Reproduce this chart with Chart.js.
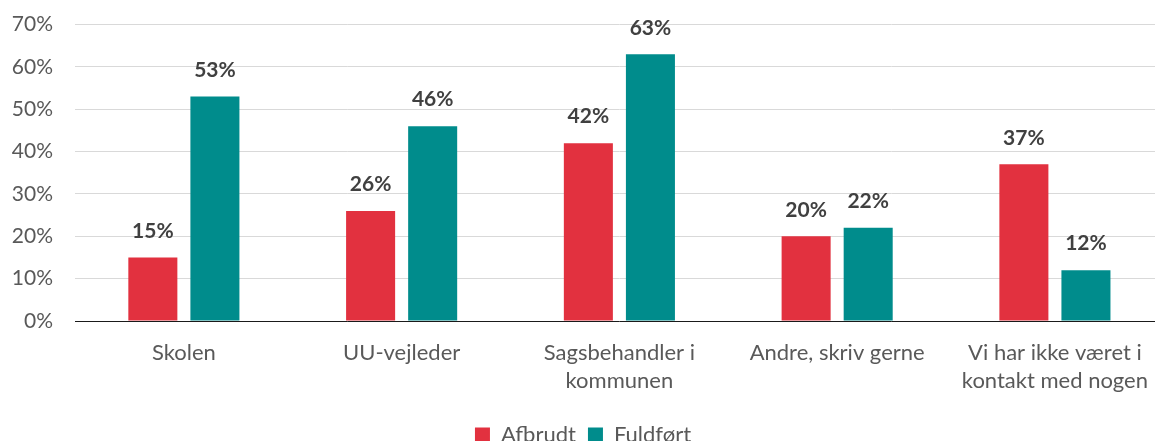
<!DOCTYPE html>
<html lang="da">
<head>
<meta charset="utf-8">
<title>Kontakt efter afbrudt / fuldført forløb</title>
<script src="https://cdn.jsdelivr.net/npm/chart.js@4"></script>
<style>
    html, body { margin: 0; padding: 0; background: #fff; overflow: hidden; }
    #wrap { position: relative; width: 1166px; height: 466px; margin-top: -10px; }
</style>
</head>
<body>
<div id="wrap"><canvas id="contactChart"></canvas></div>
<script>
// Hvem har man været i kontakt med - andel i procent
const categories = [
    'Skolen',
    'UU-vejleder',
    ['Sagsbehandler i', 'kommunen'],
    'Andre, skriv gerne',
    ['Vi har ikke været i', 'kontakt med nogen']
];
const afbrudt = [15, 26, 42, 20, 37];
const fuldfoert = [53, 46, 63, 22, 12];
const yTicks = [0, 10, 20, 30, 40, 50, 60, 70];

const FONT = 'Lato, "Open Sans", sans-serif';

// Skriver procenttallet over hver søjle
const valueLabels = {
    id: 'valueLabels',
    afterDatasetsDraw(chart) {
        const ctx = chart.ctx;
        ctx.save();
        ctx.font = 'bold 21px ' + FONT;
        ctx.fillStyle = '#404040';
        ctx.textAlign = 'center';
        ctx.textBaseline = 'bottom';
        chart.data.datasets.forEach((ds, i) => {
            chart.getDatasetMeta(i).data.forEach((bar, j) => {
                ctx.fillText(ds.data[j] + '%', bar.x, bar.y - 16);
            });
        });
        ctx.restore();
    }
};

new Chart(document.getElementById('contactChart'), {
    type: 'bar',
    data: {
        labels: categories,
        datasets: [
            { label: 'Afbrudt', data: afbrudt, backgroundColor: '#E2313F' },
            { label: 'Fuldført', data: fuldfoert, backgroundColor: '#008C8C' }
        ]
    },
    options: {
        responsive: true,
        maintainAspectRatio: false,
        animation: false,
        categoryPercentage: 0.57,
        barPercentage: 0.79,
        layout: { padding: { top: 3, right: 0, left: 0, bottom: 0 } },
        plugins: {
            legend: {
                position: 'bottom',
                labels: {
                    color: '#595959',
                    font: { family: FONT, size: 22 },
                    boxWidth: 15,
                    boxHeight: 15,
                    padding: 12
                }
            },
            tooltip: { enabled: false }
        },
        scales: {
            x: {
                afterFit(scale) { scale.height = 91; },
                grid: { display: false, drawTicks: false },
                border: { color: '#1a1a1a', width: 1 },
                ticks: {
                    color: '#595959',
                    font: { family: FONT, size: 22, lineHeight: 1.27 },
                    padding: 18,
                    maxRotation: 0,
                    autoSkip: false
                }
            },
            y: {
                min: 0,
                max: 70,
                afterFit(scale) { scale.width = 75; },
                afterBuildTicks(scale) { scale.ticks = yTicks.map(v => ({ value: v })); },
                grid: { color: '#D9D9D9', drawTicks: false },
                border: { display: false },
                ticks: {
                    color: '#595959',
                    font: { family: FONT, size: 21 },
                    padding: 22,
                    callback: v => v + '%'
                }
            }
        }
    },
    plugins: [valueLabels]
});
</script>
</body>
</html>
